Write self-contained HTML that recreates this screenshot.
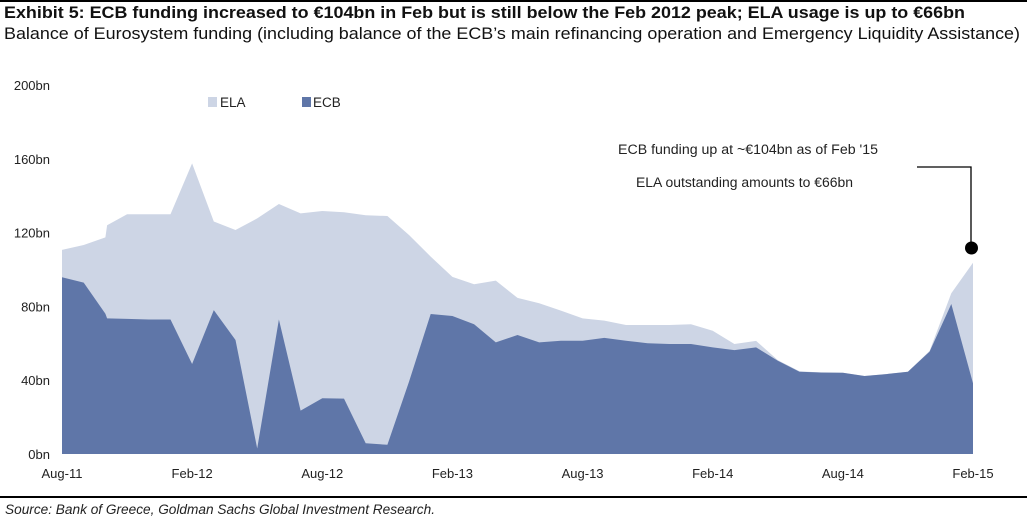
<!DOCTYPE html>
<html><head><meta charset="utf-8"><style>
body{margin:0;background:#fff;width:1027px;height:519px;overflow:hidden;font-family:"Liberation Sans",sans-serif;}
svg text{font-family:"Liberation Sans",sans-serif;}
</style></head><body>
<svg width="1027" height="519">
<rect x="0" y="0" width="1027" height="2" fill="#000"/>
<text x="4" y="18" font-size="17" font-weight="bold" fill="#111" textLength="961" lengthAdjust="spacingAndGlyphs">Exhibit 5: ECB funding increased to €104bn in Feb but is still below the Feb 2012 peak; ELA usage is up to €66bn</text>
<text x="4" y="39" font-size="16.5" fill="#111" textLength="1016" lengthAdjust="spacingAndGlyphs">Balance of Eurosystem funding (including balance of the ECB’s main refinancing operation and Emergency Liquidity Assistance)</text>
<g id="yaxis"></g>
<g id="xaxis"></g>
<path id="ela" fill="#cdd5e5"/>
<path id="ecb" fill="#5f76a8"/>
<rect x="208" y="97" width="9" height="10" fill="#cdd5e5"/>
<text x="220" y="107" font-size="13.5" fill="#222">ELA</text>
<rect x="302" y="97" width="9" height="10" fill="#5f76a8"/>
<text x="313" y="107" font-size="13.5" fill="#222">ECB</text>
<text x="618" y="154" font-size="13.5" fill="#222" textLength="260" lengthAdjust="spacingAndGlyphs">ECB funding up at ~€104bn as of Feb '15</text>
<text x="636" y="187" font-size="13.5" fill="#222" textLength="217" lengthAdjust="spacingAndGlyphs">ELA outstanding amounts to €66bn</text>
<polyline points="917,167 971,167 971,248" fill="none" stroke="#000" stroke-width="1.3"/>
<circle cx="971.5" cy="248" r="6.5" fill="#000"/>
<rect x="0" y="496" width="1027" height="2" fill="#000"/>
<text x="5" y="514" font-size="13.5" font-style="italic" fill="#222" textLength="430" lengthAdjust="spacingAndGlyphs">Source: Bank of Greece, Goldman Sachs Global Investment Research.</text>
</svg>
<script>
const months=[0,1,2,2.08,3,4,5,6,7,8,9,10,11,12,13,14,15,16,17,18,19,20,21,22,23,24,25,26,27,28,29,30,31,32,33,34,35,36,37,38,39,40,41,42];
const totalVals=[110.6,113.3,117.4,124,130,130,130,157.5,126,121.4,127.7,135.5,130.4,131.7,131,129.4,129,118.7,107,96,92,94,84.6,81.7,77.7,73.5,72.3,69.9,69.9,69.9,70.3,66.8,59.6,61.3,50.9,44.9,44.2,44,42.3,43.3,44.6,55.9,87.1,103.7];
const ecbVals=[95.8,92.9,76,73.5,73.2,72.9,72.9,48.8,78,61.8,3,72.9,23.5,30.2,30,5.8,5,39.2,75.9,74.8,70.3,60.5,64.5,60.5,61.4,61.4,62.9,61.4,60,59.6,59.6,57.8,56.3,57.8,50.5,44.6,44.2,44,42.3,43.3,44.6,55.5,81.3,38.3];
const yTicks=[0,40,80,120,160,200];
const yTickLabels=["0bn","40bn","80bn","120bn","160bn","200bn"];
const xTickMonths=[0,6,12,18,24,30,36,42];
const xTickLabels=["Aug-11","Feb-12","Aug-12","Feb-13","Aug-13","Feb-14","Aug-14","Feb-15"];
const X=m=>62+m*(973-62)/42;
const Y=v=>454-v*(454-85)/200;
const NS="http://www.w3.org/2000/svg";
function area(vals){let d="M"+X(months[0])+","+Y(0);months.forEach((m,i)=>{d+=" L"+X(m).toFixed(1)+","+Y(vals[i]).toFixed(1);});d+=" L"+X(months[months.length-1])+","+Y(0)+" Z";return d;}
document.getElementById('ela').setAttribute('d',area(totalVals));
document.getElementById('ecb').setAttribute('d',area(ecbVals));
const ya=document.getElementById('yaxis');
yTicks.forEach((v,i)=>{const t=document.createElementNS(NS,'text');


t.setAttribute('x',50);t.setAttribute('y',Y(v)+5);t.setAttribute('text-anchor','end');t.setAttribute('font-size','13');t.setAttribute('fill','#222');t.textContent=yTickLabels[i];ya.appendChild(t);});
const xa=document.getElementById('xaxis');
xTickMonths.forEach((m,i)=>{const t=document.createElementNS(NS,'text');


t.setAttribute('x',X(m));t.setAttribute('y',478);t.setAttribute('text-anchor','middle');t.setAttribute('font-size','13');t.setAttribute('fill','#222');t.textContent=xTickLabels[i];xa.appendChild(t);});
</script>
</body></html>
